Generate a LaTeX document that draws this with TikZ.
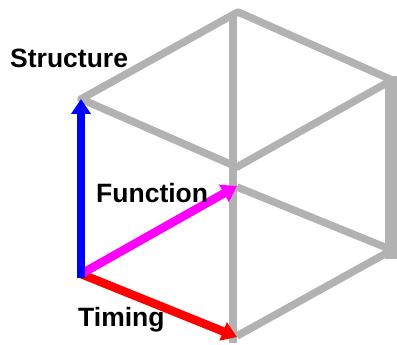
\documentclass[tikz,border=0pt]{standalone}
\usepackage{fontspec}
\setmainfont{Liberation Sans}
\usetikzlibrary{arrows.meta}
\definecolor{puremagenta}{rgb}{1,0,1}
\definecolor{edgegray}{rgb}{0.7,0.7,0.7}
\tikzset{
  x=1pt,y=-1pt,
  edge/.style={draw=edgegray,line width=7.5pt,line join=round},
  axis/.style={line width=8.5pt,-{Triangle[length=15pt,width=19pt]}},
  lbl/.style={font=\bfseries\fontsize{26.5}{28}\selectfont,text=black,inner sep=0pt,anchor=base west}
}
\begin{document}
\begin{tikzpicture}
\useasboundingbox (0,0) rectangle (397,345);
\coordinate (a) at (81,99);
\coordinate (o) at (81,274);
\coordinate (t) at (238,12);
\coordinate (r) at (392,80);
\coordinate (l) at (392,250);
\coordinate (c1) at (237,167);
\coordinate (c2) at (237,187);
\coordinate (b) at (237,336);
\coordinate (vt) at (233,14);
\coordinate (vb) at (233,343);
\coordinate (rt) at (391,76);
\coordinate (rb) at (391,259);
\draw[edge] (a) -- (t) -- (r) -- (c1) -- cycle;
\draw[edge] (c2) -- (l) -- (b);
\draw[edge] (vt) -- (vb);
\draw[edge,line width=12pt] (rt) -- (rb);
\coordinate (otop) at (81,278);
\draw[axis,red] (o) -- (237,337);
\draw[axis,puremagenta] (o) -- (237,186);
\draw[axis,blue] (otop) -- (a);
\node[lbl] (s) at (10,68) {Structure};
\node[lbl] (f) at (96,203) {Function};
\node[lbl] (ti) at (78,326) {Timing};
\end{tikzpicture}
\end{document}
